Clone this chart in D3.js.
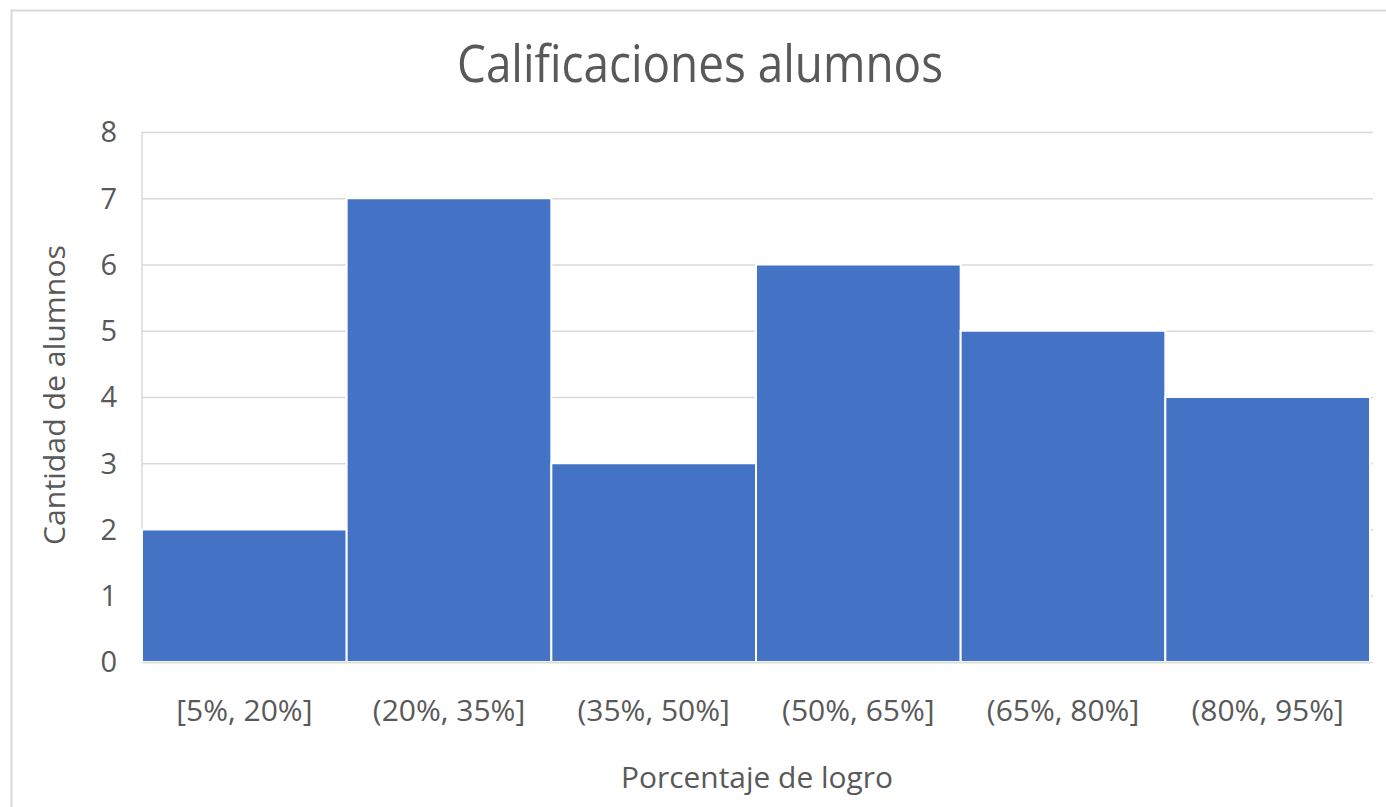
<!DOCTYPE html>
<html>
<head>
<meta charset="utf-8">
<script src="https://cdn.jsdelivr.net/npm/d3@7"></script>
<style>
    body { margin: 0; background: #fff; }
    svg { display: block; }
    text { font-family: "Open Sans", "Noto Sans", sans-serif; fill: #595959; }
</style>
</head>
<body>
<div id="viz"></div>
<script>
// data
var categories = ['[5%, 20%]', '(20%, 35%]', '(35%, 50%]', '(50%, 65%]', '(65%, 80%]', '(80%, 95%]'];
var counts = [2, 7, 3, 6, 5, 4];
var yTicks = [0, 1, 2, 3, 4, 5, 6, 7, 8];

var chartTitle = 'Calificaciones alumnos';
var xTitle = 'Porcentaje de logro';
var yTitle = 'Cantidad de alumnos';

var width = 1386;
var height = 807;
var margin = { top: 132, right: 16, bottom: 145, left: 142 };

var svg = d3.select('#viz')
    .append('svg')
    .attr('width', width)
    .attr('height', height);

// chart area border (runs off the right and bottom of the picture)
svg.append('rect')
    .attr('x', 11.5)
    .attr('y', 10.5)
    .attr('width', width + 20)
    .attr('height', height + 20)
    .attr('fill', '#fff')
    .attr('stroke', '#d9d9d9')
    .attr('stroke-width', 2);

var x = d3.scaleBand()
    .domain(categories)
    .range([margin.left, width - margin.right])
    .padding(0);

var y = d3.scaleLinear()
    .domain([0, 8])
    .range([height - margin.bottom, margin.top]);

// gridlines
var grid = svg.append('g')
    .attr('transform', 'translate(' + margin.left + ',0)')
    .call(d3.axisLeft(y)
        .tickValues(yTicks)
        .tickSize(-(width - margin.right - margin.left + 3))
        .tickFormat(''));
grid.select('.domain').remove();
grid.selectAll('line')
    .attr('stroke', '#d9d9d9')
    .attr('stroke-width', 1.5);

// left edge of plot area
svg.append('line')
    .attr('x1', margin.left).attr('x2', margin.left)
    .attr('y1', y(8)).attr('y2', y(0))
    .attr('stroke', '#d9d9d9')
    .attr('stroke-width', 1.5);

// bars
svg.selectAll('rect.bar')
    .data(counts)
    .enter().append('rect')
    .attr('class', 'bar')
    .attr('x', function (d, i) { return x(categories[i]); })
    .attr('y', function (d) { return y(d); })
    .attr('width', x.bandwidth())
    .attr('height', function (d) { return y(0) - y(d); })
    .attr('fill', '#4472c4')
    .attr('stroke', '#fff')
    .attr('stroke-width', 2);

// y tick labels
var yAxis = svg.append('g')
    .attr('transform', 'translate(' + margin.left + ',0)')
    .call(d3.axisLeft(y).tickValues(yTicks).tickSize(0).tickPadding(25).tickFormat(d3.format('d')));
yAxis.select('.domain').remove();
yAxis.selectAll('text')
    .style('font-size', '29px')
    .attr('fill', '#595959')
    .attr('dy', '0.34em');

// x tick labels
var xAxis = svg.append('g')
    .attr('transform', 'translate(0,' + y(0) + ')')
    .call(d3.axisBottom(x).tickSize(0).tickPadding(0));
xAxis.select('.domain')
    .attr('stroke', '#d9d9d9')
    .attr('stroke-width', 1.5);
xAxis.selectAll('text')
    .style('font-size', '30px')
    .attr('fill', '#595959')
    .attr('y', 59)
    .attr('dy', 0);

function squeeze(sel, w) {
    sel.attr('textLength', w).attr('lengthAdjust', 'spacingAndGlyphs');
}

// title
svg.append('text')
    .attr('x', 700)
    .attr('y', 82)
    .attr('text-anchor', 'middle')
    .style('font-size', '51px')
    .text(chartTitle)
    .call(squeeze, 486);

// axis titles
svg.append('text')
    .attr('x', 757)
    .attr('y', 788)
    .attr('text-anchor', 'middle')
    .style('font-size', '29px')
    .text(xTitle)
    .call(squeeze, 272);

svg.append('text')
    .attr('transform', 'translate(65,395) rotate(-90)')
    .attr('text-anchor', 'middle')
    .style('font-size', '29px')
    .text(yTitle)
    .call(squeeze, 300);
</script>
</body>
</html>
